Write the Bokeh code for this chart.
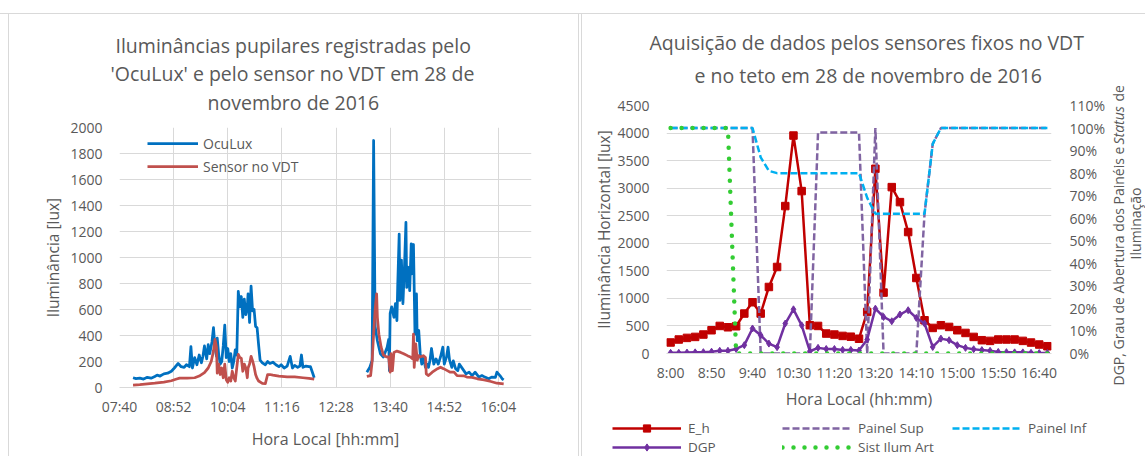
import math
from bokeh.plotting import figure
from bokeh.models import (Range1d, LinearAxis, FixedTicker, NumeralTickFormatter,
                          Legend, LegendItem, Title, Label, Plot)
from bokeh.layouts import row, column
from bokeh.embed import file_html
from bokeh.resources import INLINE

FONT = "Open Sans"
TXT = "#595959"
GRID = "#D9D9D9"
NAN = float("nan")

# ---------------- left chart data ----------------
left_title = ["Iluminâncias pupilares registradas pelo",
              "'OcuLux' e pelo sensor no VDT em 28 de",
              "novembro de 2016"]
left_xticks = ["07:40", "08:52", "10:04", "11:16", "12:28", "13:40", "14:52", "16:04"]
left_xmax = "16:48"
left_yticks = list(range(0, 2001, 200))

oculux_t = ["07:58", "08:02", "08:07", "08:12", "08:17", "08:22", "08:27", "08:30", "08:34", "08:39",
            "08:44", "08:49", "08:53", "08:58", "09:02", "09:06", "09:09", "09:13", "09:15", "09:17",
            "09:20", "09:23", "09:26", "09:29", "09:31", "09:33", "09:36", "09:38", "09:40", "09:43",
            "09:45", "09:47", "09:49", "09:50", "09:52", "09:54", "09:56", "09:58", "10:00", "10:02",
            "10:04", "10:06", "10:08", "10:10", "10:12", "10:14", "10:16", "10:18", "10:20", "10:22",
            "10:24", "10:26", "10:28", "10:30", "10:31", "10:33", "10:35", "10:37", "10:39", "10:41",
            "10:43", "10:45", "10:47", "10:50", "10:54", "10:57", "11:00", "11:04", "11:08", "11:12",
            "11:15", "11:19", "11:23", "11:27", "11:30", "11:33", "11:37", "11:40", "11:42", "11:44",
            "11:48", "11:52", "11:54", "11:57", "11:59",
            "12:30",
            "13:09", "13:13", "13:16", "13:18", "13:20", "13:23", "13:27", "13:31", "13:36", "13:38",
            "13:39", "13:40", "13:42", "13:45", "13:47", "13:49", "13:50", "13:52", "13:53", "13:55",
            "13:57", "13:59", "14:01", "14:02", "14:04", "14:06", "14:08", "14:09", "14:11", "14:13",
            "14:15", "14:16", "14:18", "14:20", "14:22", "14:24", "14:27", "14:29", "14:31", "14:33",
            "14:35", "14:38", "14:41", "14:44", "14:47", "14:50", "14:52", "14:55", "14:57", "14:59",
            "15:02", "15:04", "15:07", "15:10", "15:12", "15:15", "15:18", "15:21", "15:25", "15:29",
            "15:33", "15:38", "15:42", "15:46", "15:51", "15:55", "16:00", "16:02", "16:06", "16:09",
            "16:11"]
oculux_v = [75, 68, 72, 65, 78, 72, 85, 95, 88, 105,
            110, 125, 150, 185, 160, 155, 175, 160, 315, 150,
            230, 175, 250, 190, 240, 320, 220, 330, 260, 350,
            460, 310, 240, 380, 250, 180, 200, 320, 480, 230,
            300, 200, 260, 150, 200, 290, 250, 740, 620, 700,
            540, 680, 560, 620, 720, 500, 780, 590, 600, 470,
            460, 330, 210, 190, 175, 200, 185, 195, 175, 160,
            175, 150, 165, 240, 150, 170, 155, 165, 250, 155,
            165, 160, 160, 110, 75,
            NAN,
            118, 156, 208, 1900, 470, 360, 260, 235, 310, 370,
            130, 570, 620, 540, 645, 515, 770, 1180, 670, 980,
            645, 925, 1270, 770, 925, 745, 1105, 875, 1100, 410,
            720, 360, 440, 260, 180, 235, 155, 180, 155, 210,
            300, 180, 220, 180, 235, 310, 180, 235, 310, 210,
            155, 205, 145, 130, 180, 155, 130, 105, 118, 92,
            118, 80, 92, 80, 67, 80, 78, 118, 92, 67,
            59]

sensor_t = ["07:58", "08:07", "08:17", "08:27", "08:39", "08:49", "08:56", "09:00", "09:10", "09:20",
            "09:26", "09:33", "09:38", "09:42", "09:45", "09:47", "09:49", "09:50", "09:52", "09:54",
            "09:56", "09:58", "10:00", "10:02", "10:04", "10:06", "10:08", "10:10", "10:12", "10:14",
            "10:18", "10:20", "10:22", "10:24", "10:26", "10:28", "10:30", "10:31", "10:33", "10:35",
            "10:37", "10:39", "10:41", "10:43", "10:45", "10:50", "10:54", "10:57", "11:00", "11:04",
            "11:12", "11:23", "11:33", "11:44", "11:52", "11:59",
            "12:30",
            "13:09", "13:14", "13:16", "13:18", "13:20", "13:22", "13:23", "13:25", "13:28", "13:31",
            "13:35", "13:38", "13:40", "13:41", "13:43", "13:45", "13:49", "13:54", "13:58", "14:03",
            "14:07", "14:10", "14:11", "14:12", "14:14", "14:16", "14:18", "14:20", "14:24", "14:27",
            "14:28", "14:31", "14:36", "14:43", "14:47", "14:51", "14:56", "15:00", "15:05", "15:09",
            "15:18", "15:22", "15:29", "15:36", "15:45", "15:54", "16:02", "16:11"]
sensor_v = [18, 22, 28, 33, 42, 52, 65, 72, 72, 75,
            88, 115, 150, 200, 280, 370, 310, 110, 180, 100,
            150, 75, 180, 60, 40, 75, 50, 125, 75, 50,
            255, 230, 225, 125, 180, 150, 75, 150, 180, 240,
            205, 160, 100, 70, 50, 32, 30, 100, 100, 95,
            88, 82, 82, 75, 70, 64,
            NAN,
            85, 92, 200, 410, 600, 720, 540, 410, 310, 250,
            235, 235, 118, 260, 130, 270, 280, 270, 260, 245,
            235, 220, 410, 155, 335, 210, 245, 235, 245, 230,
            105, 92, 118, 145, 156, 145, 130, 118, 118, 92,
            90, 80, 78, 67, 58, 46, 33, 28]

# ---------------- right chart data ----------------
right_title = ["Aquisição de dados pelos sensores fixos no VDT",
               "e no teto em 28 de novembro de 2016"]
categories = ["8:00", "8:10", "8:20", "8:30", "8:40", "8:50", "9:00", "9:10", "9:20", "9:30",
              "9:40", "9:50", "10:00", "10:10", "10:20", "10:30", "10:40", "10:50", "11:00", "11:10",
              "11:20", "11:30", "11:40", "11:50", "13:10", "13:20", "13:30", "13:40", "13:50", "14:00",
              "14:10", "14:20", "14:30", "14:40", "14:50", "15:00", "15:10", "15:20", "15:30", "15:40",
              "15:50", "16:00", "16:10", "16:20", "16:30", "16:40", "16:50"]
e_h = [200, 254, 283, 301, 344, 422, 500, 476, 494, 725,
       930, 725, 1207, 1570, 2675, 3955, 2947, 513, 500, 362,
       344, 319, 305, 268, 754, 3352, 1105, 3019, 2747, 2204,
       1370, 603, 464, 513, 482, 422, 373, 301, 241, 229,
       254, 254, 254, 229, 199, 163, 132]
dgp = [0.003, 0.003, 0.004, 0.005, 0.006, 0.008, 0.012, 0.012, 0.020, 0.037,
       0.111, 0.081, 0.044, 0.028, 0.133, 0.196, 0.125, 0.010, 0.025, 0.020,
       0.020, 0.016, 0.016, 0.013, 0.062, 0.199, 0.162, 0.143, 0.173, 0.192,
       0.158, 0.133, 0.029, 0.066, 0.059, 0.037, 0.025, 0.019, 0.015, 0.012,
       0.007, 0.006, 0.005, 0.005, 0.003, 0.002, 0.002]
painel_sup = [1, 1, 1, 1, 1, 1, 1, 1, 1, 1,
              1, 0, 0, 0, 0, 0, 0, 0, 0.98, 0.98,
              0.98, 0.98, 0.98, 0.98, 0, 1, 0, 0, 0, 0,
              0, 0.62, 0.93, 1, 1, 1, 1, 1, 1, 1,
              1, 1, 1, 1, 1, 1, 1]
painel_inf = [1, 1, 1, 1, 1, 1, 1, 1, 1, 1,
              1, 0.87, 0.81, 0.80, 0.80, 0.80, 0.80, 0.80, 0.80, 0.80,
              0.80, 0.80, 0.80, 0.80, 0.69, 0.62, 0.62, 0.62, 0.62, 0.62,
              0.62, 0.62, 0.93, 1, 1, 1, 1, 1, 1, 1,
              1, 1, 1, 1, 1, 1, 1]
sist_ilum = [1, 1, 1, 1, 1, 1, 1, 1, 0, 0,
             0, 0, 0, 0, 0, 0, 0, 0, 0, 0,
             0, 0, 0, 0, 0, 0, 0, 0, 0, 0,
             0, 0, 0, 0, 0, 0, 0, 0, 0, 0,
             0, 0, 0, 0, 0, 0, 0]
right_yticks = list(range(0, 4501, 500))
pct_ticks = [i / 10 for i in range(12)]
right_ytitle = [["DGP, Grau de Abertura dos Painéis e", "Status", "de"], ["Iluminação"]]

EXTRA = {"frame_align": False} if "frame_align" in Plot.properties() else {}


def mins(s):
    h, m = s.split(":")
    return int(h) * 60 + int(m)


def style_axis(ax, standoff):
    ax.axis_line_color = None
    ax.major_tick_line_color = None
    ax.minor_tick_line_color = None
    ax.major_label_text_font = FONT
    ax.major_label_text_font_size = "14px"
    ax.major_label_text_color = TXT
    ax.major_label_standoff = standoff
    ax.axis_label_text_font = FONT
    ax.axis_label_text_font_style = "normal"
    ax.axis_label_text_color = TXT


def add_title(p, text, offset, standoff):
    p.add_layout(Title(text=text, align="left", offset=offset, standoff=standoff,
                       text_font=FONT, text_font_size="19.5px", text_font_style="normal",
                       text_color=TXT), "above")


def bare(width, height):
    p = figure(width=width, height=height, output_backend="svg", toolbar_location=None,
               title=None, x_range=Range1d(-10, -9), y_range=Range1d(-10, -9), min_border=0,
               x_axis_location=None, y_axis_location=None, border_fill_color=None,
               background_fill_color=None, outline_line_color=None, **EXTRA)
    p.xgrid.grid_line_color = None
    p.ygrid.grid_line_color = None
    return p


# ================= LEFT FIGURE =================
p1 = figure(width=580, height=456, output_backend="svg", toolbar_location=None, title=None,
            x_range=Range1d(mins(left_xticks[0]), mins(left_xmax)), y_range=Range1d(0, 2000),
            min_border_left=119, min_border_right=49, min_border_top=127, min_border_bottom=69,
            border_fill_color=None, background_fill_color="white", outline_line_color=None,
            **EXTRA)
p1.styles = {"box-shadow": "inset 0 13px 0 #ffffff, inset 0 14px 0 #d9d9d9, "
                           "inset 8px 0 0 #ffffff, inset 9px 0 0 #d9d9d9, "
                           "inset -1px 0 0 #ffffff, inset -2px 0 0 #d9d9d9"}

xt = [mins(t) for t in left_xticks]
p1.xaxis.ticker = FixedTicker(ticks=xt)
p1.xaxis.major_label_overrides = {m: t for m, t in zip(xt, left_xticks)}
p1.yaxis.ticker = FixedTicker(ticks=left_yticks)
for ax in p1.xaxis:
    style_axis(ax, 3)
    ax.axis_line_color = GRID
    ax.axis_label = "Hora Local [hh:mm]"
    ax.axis_label_text_font_size = "16px"
    ax.axis_label_standoff = 9
for ax in p1.yaxis:
    style_axis(ax, 11)
    ax.axis_label = "Iluminância [lux]"
    ax.axis_label_text_font_size = "15.5px"
    ax.axis_label_standoff = 3
p1.xgrid.grid_line_color = GRID
p1.ygrid.grid_line_color = GRID

r_oc = p1.line([mins(t) for t in oculux_t], oculux_v, color="#0070C0", line_width=2.75,
               line_join="round")
r_se = p1.line([mins(t) for t in sensor_t], sensor_v, color="#C0504D", line_width=2.75,
               line_join="round")

leg1 = Legend(items=[LegendItem(label="OcuLux", renderers=[r_oc]),
                     LegendItem(label="Sensor no VDT", renderers=[r_se])],
              location=(28, 211), border_line_color=None, background_fill_alpha=0,
              padding=0, margin=0, spacing=3, glyph_width=51, glyph_height=20,
              label_height=20, label_standoff=5, label_text_font=FONT,
              label_text_font_size="14px", label_text_color=TXT)
p1.add_layout(leg1)

# title lines, nearest to the frame first
add_title(p1, left_title[2], 88, 24)
add_title(p1, left_title[1], -9, -25)
add_title(p1, left_title[0], -4, 24)

# ================= RIGHT FIGURE =================
idx = list(range(len(categories)))
p2 = figure(width=528, height=418, output_backend="svg", toolbar_location=None, title=None,
            x_range=Range1d(-0.5, len(categories) - 0.5), y_range=Range1d(0, 4500),
            min_border_left=86, min_border_right=52, min_border_top=105, min_border_bottom=65,
            border_fill_color=None, background_fill_color="white", outline_line_color=None,
            **EXTRA)
p2.styles = {"box-shadow": "inset 0 13px 0 #ffffff, inset 0 14px 0 #d9d9d9, "
                           "inset 1px 0 0 #ffffff, inset 2px 0 0 #d9d9d9"}
p2.extra_y_ranges = {"pct": Range1d(0, 1.1)}

cat_ticks = idx[::5]
p2.xaxis.ticker = FixedTicker(ticks=cat_ticks)
p2.xaxis.major_label_overrides = {i: categories[i] for i in cat_ticks}
p2.yaxis.ticker = FixedTicker(ticks=right_yticks)
for ax in p2.xaxis:
    style_axis(ax, 3)
    ax.axis_line_color = GRID
    ax.axis_label = "Hora Local (hh:mm)"
    ax.axis_label_text_font_size = "16px"
    ax.axis_label_standoff = 3
for ax in p2.yaxis:
    style_axis(ax, 11)
    ax.axis_label = "Iluminância Horizontal [lux]"
    ax.axis_label_text_font_size = "15.5px"
    ax.axis_label_standoff = -1
ax_r = LinearAxis(y_range_name="pct", ticker=FixedTicker(ticks=pct_ticks),
                  formatter=NumeralTickFormatter(format="0%"))
style_axis(ax_r, 12)
ax_r.major_label_text_align = "left"
p2.add_layout(ax_r, "right")
p2.xgrid.grid_line_color = None
p2.ygrid.grid_line_color = GRID

RED = "#C00000"
PURP = "#7030A0"
LAV = "#8064A2"
CYAN = "#00B0F0"
GREEN = "#33CC33"
STY = {
    "E_h": dict(color=RED, line_width=2.5, line_join="round"),
    "Painel Sup": dict(color=LAV, line_width=2.5, line_dash="7 3"),
    "Painel Inf": dict(color=CYAN, line_width=2.5, line_dash="7 3"),
    "DGP": dict(color=PURP, line_width=2.5, line_join="round"),
    "Sist Ilum Art": dict(color=GREEN, line_width=4.5, line_dash="0 11", line_cap="round"),
}
SERIES = {"E_h": (e_h, "default"), "Painel Sup": (painel_sup, "pct"),
          "Painel Inf": (painel_inf, "pct"), "DGP": (dgp, "pct"),
          "Sist Ilum Art": (sist_ilum, "pct")}
MARK = {"E_h": dict(marker="square", size=7.5, color=RED),
        "DGP": dict(marker="diamond", size=7, color=PURP)}

for name in ["E_h", "Painel Sup", "Painel Inf", "DGP", "Sist Ilum Art"]:
    vals, rng = SERIES[name]
    p2.line(idx, vals, y_range_name=rng, **STY[name])
    if name in MARK:
        p2.scatter(idx, vals, y_range_name=rng, **MARK[name])

add_title(p2, right_title[1], 28, 34)
add_title(p2, right_title[0], -17, -26)

# ================= LEGEND STRIP UNDER THE RIGHT CHART =================
pl = bare(528, 42)
pl.styles = {"box-shadow": "inset 1px 0 0 #ffffff, inset 2px 0 0 #d9d9d9"}
lr = {}
for name in STY:
    vals, _ = SERIES[name]
    rs = [pl.line(idx, vals, **STY[name])]   # drawn outside the strip's view: legend proxies
    if name in MARK:
        rs.append(pl.scatter(idx, vals, **MARK[name]))
    lr[name] = rs


def legend_row(names, y):
    return Legend(items=[LegendItem(label=n, renderers=lr[n]) for n in names],
                  orientation="horizontal", location=(32, y),
                  border_line_color=None, background_fill_alpha=0, padding=0, margin=0,
                  spacing=0, glyph_width=69, glyph_height=18, label_height=18,
                  label_width=94, label_standoff=7, label_text_font=FONT,
                  label_text_font_size="13.5px", label_text_color=TXT)


pl.add_layout(legend_row(["E_h", "Painel Sup", "Painel Inf"], 23))
pl.add_layout(legend_row(["DGP", "Sist Ilum Art"], 4.4))

# ================= RIGHT AXIS TITLE STRIP =================
pr = bare(37, 456)
pr.styles = {"box-shadow": "inset 0 13px 0 #ffffff, inset 0 14px 0 #d9d9d9"}
HALF_PI = math.pi / 2


def rot_label(x, y, text, align, style="normal"):
    pr.add_layout(Label(x=x, y=y, x_units="screen", y_units="screen", text=text,
                        angle=HALF_PI, text_align=align, text_baseline="middle",
                        text_font=FONT, text_font_size="14px", text_color=TXT,
                        text_font_style=style))


rot_label(10, 71, right_ytitle[0][0], "left")
rot_label(10, 312, right_ytitle[0][1], "left", "italic")
rot_label(10, 355, right_ytitle[0][2], "left")
rot_label(27, 233, right_ytitle[1][0], "center")

layout = row(p1, column(p2, pl, spacing=0), pr, spacing=0)
open("out.html", "w").write(file_html(layout, INLINE))
